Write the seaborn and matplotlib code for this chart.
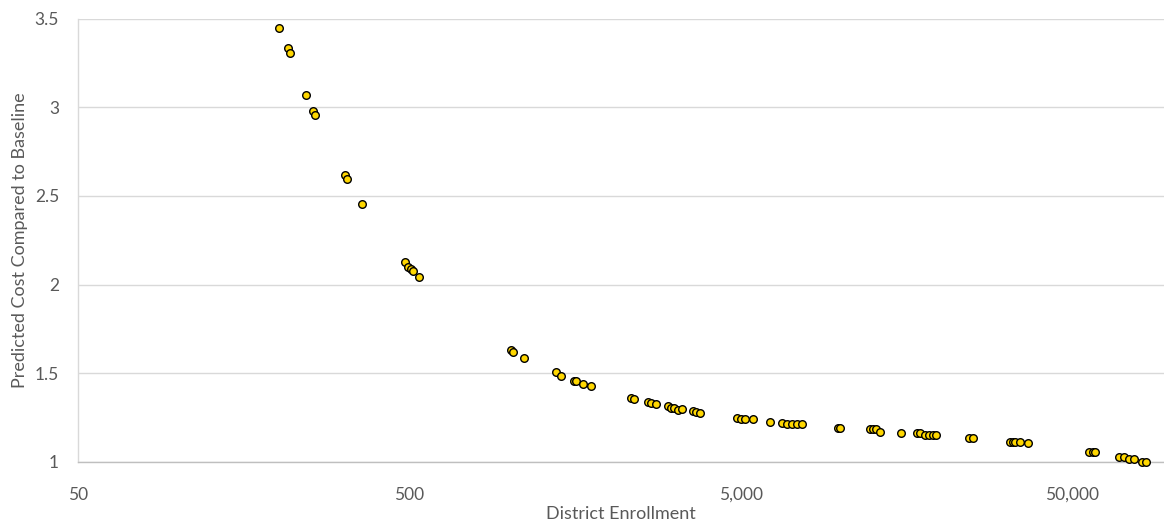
import matplotlib
matplotlib.use("Agg")
import matplotlib.pyplot as plt
from matplotlib.ticker import FixedLocator, FixedFormatter, NullLocator
import seaborn as sns
import pandas as pd

# District enrollment vs. predicted cost relative to baseline
enrollment = [
    202, 215, 217, 244, 255, 259, 319, 323, 359, 484, 496, 505, 513, 533,
    1010, 1030, 1107, 1385, 1431, 1570, 1590, 1668, 1763, 2339, 2387,
    2622, 2683, 2777, 3013, 3083, 3155, 3243, 3322, 3585, 3669, 3765,
    4889, 5020, 5160, 5455, 6141, 6675, 6925, 7170, 7424, 7670, 9850,
    9992, 12300, 12546, 12800, 13135, 15240, 17035, 17430, 17962, 18597,
    19000, 19484, 24504, 25248, 32600, 33200, 33750, 34780, 37020, 56570,
    57960, 58900, 69620, 71740, 74280, 76900, 81490, 83970,
]
cost_ratio = [
    3.446, 3.334, 3.306, 3.069, 2.977, 2.954, 2.616, 2.595, 2.457, 2.126,
    2.098, 2.087, 2.079, 2.041,
    1.629, 1.617, 1.586, 1.504, 1.481, 1.457, 1.455, 1.438, 1.427, 1.361,
    1.352, 1.335, 1.333, 1.324, 1.314, 1.304, 1.301, 1.293, 1.296, 1.286,
    1.280, 1.276, 1.246, 1.243, 1.239, 1.239, 1.226, 1.218, 1.211, 1.211,
    1.211, 1.211, 1.192, 1.192, 1.183, 1.183, 1.182, 1.169, 1.162, 1.163,
    1.160, 1.152, 1.152, 1.152, 1.152, 1.135, 1.135, 1.113, 1.113, 1.113,
    1.113, 1.105, 1.056, 1.056, 1.056, 1.028, 1.026, 1.017, 1.017, 1.000,
    1.000,
]
x_ticks = [50, 500, 5000, 50000]
x_tick_labels = ["50", "500", "5,000", "50,000"]
y_ticks = [1, 1.5, 2, 2.5, 3, 3.5]
y_tick_labels = ["1", "1.5", "2", "2.5", "3", "3.5"]

df = pd.DataFrame({"enrollment": enrollment, "cost": cost_ratio})

sns.set_style("white")
plt.rcParams["font.family"] = ["Lato", "DejaVu Sans"]

text_gray = "#595959"
fig = plt.figure(figsize=(11.64, 5.26), dpi=100)
ax = fig.add_axes([0.0674, 0.1222, 0.9326, 0.8422])

sns.scatterplot(
    data=df, x="enrollment", y="cost", ax=ax,
    color="#FFD700", edgecolor="black", linewidth=1.0, s=30,
    clip_on=False, zorder=3,
)

ax.set_xscale("log")
ax.set_xlim(50, 95000)
ax.set_ylim(1, 3.5)

ax.xaxis.set_major_locator(FixedLocator(x_ticks))
ax.xaxis.set_major_formatter(FixedFormatter(x_tick_labels))
ax.xaxis.set_minor_locator(NullLocator())
ax.yaxis.set_major_locator(FixedLocator(y_ticks))
ax.yaxis.set_major_formatter(FixedFormatter(y_tick_labels))

ax.grid(axis="y", color="#D9D9D9", linewidth=1.0)
ax.grid(axis="x", visible=False)
ax.set_axisbelow(True)

for side in ("top", "right"):
    ax.spines[side].set_visible(False)
ax.spines["bottom"].set_color("#BFBFBF")
ax.spines["left"].set_color("#D9D9D9")
ax.spines["bottom"].set_linewidth(1.0)
ax.spines["left"].set_linewidth(1.0)

ax.tick_params(axis="both", length=0, labelsize=12.5, colors=text_gray)
ax.tick_params(axis="x", pad=18)
ax.tick_params(axis="y", pad=14)

ax.set_xlabel("District Enrollment", fontsize=13, color=text_gray, labelpad=2)
ax.set_ylabel("Predicted Cost Compared to Baseline", fontsize=13,
              color=text_gray, labelpad=5)

fig.savefig("out.png", dpi=100)
